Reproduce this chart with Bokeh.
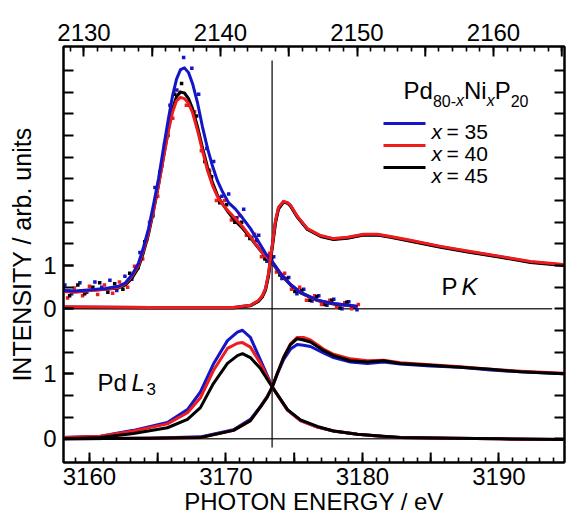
from bokeh.plotting import figure
from bokeh.models import Range1d, LinearAxis, FixedTicker, Label
from bokeh.embed import file_html
from bokeh.resources import INLINE

# ---------------- data ----------------
# Upper panel: P K  (top axis, photon energy in eV)
pk_xes_E = [2128.42, 2129.38, 2130.48, 2131.58, 2132.53, 2133.04, 2133.55, 2133.99, 2134.36, 2134.73,
            2135.09, 2135.46, 2135.82, 2136.19, 2136.48, 2136.78, 2137.07, 2137.36, 2137.66, 2137.95,
            2138.32, 2138.68, 2139.05, 2139.41, 2139.78, 2140.15, 2140.59, 2141.10, 2141.61, 2142.20,
            2142.78, 2143.30, 2143.81, 2144.40, 2145.13, 2145.86, 2147.11, 2148.28, 2150.04]
pk_xes_35 = [0.42, 0.41, 0.44, 0.47, 0.52, 0.60, 0.80, 1.05, 1.42, 1.85, 2.40, 3.00, 3.70, 4.40, 4.90,
             5.30, 5.52, 5.56, 5.45, 5.20, 4.75, 4.20, 3.70, 3.30, 2.95, 2.70, 2.45, 2.30, 2.10, 1.85,
             1.55, 1.28, 1.08, 0.82, 0.56, 0.38, 0.20, 0.12, 0.06]
pk_xes_40 = [0.40, 0.38, 0.42, 0.45, 0.49, 0.58, 0.77, 1.00, 1.35, 1.76, 2.27, 2.85, 3.47, 4.11, 4.53,
             4.80, 4.88, 4.85, 4.74, 4.53, 4.11, 3.65, 3.19, 2.85, 2.59, 2.41, 2.25, 2.08, 1.90, 1.66,
             1.41, 1.21, 1.07, 0.81, 0.56, 0.38, 0.19, 0.12, 0.05]
pk_xes_45 = [0.42, 0.40, 0.43, 0.45, 0.48, 0.55, 0.72, 0.95, 1.30, 1.72, 2.25, 2.85, 3.50, 4.15, 4.60,
             4.90, 5.00, 4.98, 4.85, 4.62, 4.20, 3.72, 3.27, 2.92, 2.62, 2.42, 2.22, 2.02, 1.86, 1.64,
             1.40, 1.20, 1.05, 0.80, 0.55, 0.37, 0.19, 0.11, 0.05]

# raw (noisy) emission points
pk_dots_E_35 = [2128.6, 2129.1, 2129.7, 2130.2, 2130.8, 2131.3, 2131.9, 2132.4, 2133.0, 2133.5,
                2134.1, 2134.6, 2135.2, 2135.7, 2136.3, 2136.8, 2137.3, 2137.9, 2138.4, 2139.0,
                2139.5, 2140.1, 2140.6, 2141.2, 2141.7, 2142.3, 2142.8, 2143.4, 2143.9, 2144.5,
                2145.0, 2145.6, 2146.1, 2146.7, 2147.2, 2147.8, 2148.3, 2148.9, 2149.4, 2150.0]
pk_dots_35 = [0.55, 0.35, 0.60, 0.38, 0.62, 0.50, 0.66, 0.42, 0.75, 0.68, 1.30, 1.60, 2.80, 3.30,
              4.70, 5.05, 5.80, 5.55, 4.95, 3.70, 3.40, 2.60, 2.65, 2.10, 2.30, 1.65, 1.70, 1.10,
              1.20, 0.70, 0.72, 0.35, 0.45, 0.18, 0.30, 0.08, 0.22, 0.00, 0.16, -0.02]
pk_dots_E_40 = [2128.8, 2129.3, 2129.9, 2130.4, 2131.0, 2131.5, 2132.1, 2132.6, 2133.2, 2133.7,
                2134.3, 2134.8, 2135.4, 2135.9, 2136.5, 2137.0, 2137.5, 2138.1, 2138.6, 2139.2,
                2139.7, 2140.3, 2140.8, 2141.4, 2141.9, 2142.5, 2143.0, 2143.6, 2144.1, 2144.7,
                2145.2, 2145.8, 2146.3, 2146.9, 2147.4, 2148.0, 2148.5, 2149.1, 2149.6, 2150.1]
pk_dots_40 = [0.25, 0.48, 0.30, 0.52, 0.33, 0.55, 0.36, 0.62, 0.50, 0.98, 1.15, 2.00, 2.60, 3.80,
              4.40, 5.00, 4.70, 4.55, 3.65, 3.20, 2.50, 2.50, 2.05, 2.15, 1.70, 1.72, 1.20, 1.28,
              0.85, 0.82, 0.45, 0.50, 0.20, 0.30, 0.10, 0.20, 0.05, 0.14, 0.00, 0.10]
pk_dots_E_45 = [2128.45, 2128.95, 2129.55, 2130.05, 2130.65, 2131.15, 2131.75, 2132.25, 2132.85, 2133.35,
                2133.95, 2134.45, 2135.05, 2135.55, 2136.15, 2136.65, 2137.15, 2137.75, 2138.25, 2138.85,
                2139.35, 2139.95, 2140.45, 2141.05, 2141.55, 2142.15, 2142.65, 2143.25, 2143.75, 2144.35,
                2144.85, 2145.45, 2145.95, 2146.55, 2147.05, 2147.65, 2148.15, 2148.75, 2149.25, 2149.85]
pk_dots_45 = [0.50, 0.30, 0.55, 0.35, 0.50, 0.60, 0.38, 0.58, 0.45, 0.82, 0.95, 1.55, 2.15, 3.15,
              4.00, 4.95, 5.20, 4.70, 4.45, 3.40, 3.05, 2.45, 2.40, 2.00, 2.00, 1.62, 1.58, 1.15,
              1.15, 0.78, 0.70, 0.40, 0.42, 0.20, 0.28, 0.10, 0.20, 0.02, 0.15, 0.03]

pk_xas_E = [2128.42, 2134.87, 2140.95, 2142.20, 2142.78, 2143.08, 2143.30, 2143.52, 2143.66, 2143.81,
            2144.03, 2144.25, 2144.62, 2144.91, 2145.13, 2145.64, 2146.37, 2147.33, 2148.28, 2149.30,
            2150.48, 2151.50, 2152.45, 2153.92, 2156.12, 2158.32, 2160.51, 2162.71, 2165.13]
pk_xas_35 = [0.04, 0.03, 0.03, 0.08, 0.18, 0.30, 0.46, 0.80, 1.14, 1.50, 2.02, 2.33, 2.47, 2.44, 2.38,
             2.12, 1.84, 1.68, 1.61, 1.64, 1.71, 1.71, 1.66, 1.57, 1.43, 1.31, 1.20, 1.08, 1.01]
pk_xas_40 = [0.05, 0.03, 0.03, 0.08, 0.19, 0.31, 0.47, 0.82, 1.16, 1.51, 2.04, 2.34, 2.48, 2.45, 2.39,
             2.13, 1.85, 1.69, 1.62, 1.65, 1.72, 1.72, 1.67, 1.58, 1.44, 1.32, 1.21, 1.09, 1.02]
pk_xas_45 = [0.03, 0.02, 0.02, 0.07, 0.17, 0.28, 0.43, 0.76, 1.10, 1.45, 1.98, 2.30, 2.46, 2.44, 2.37,
             2.11, 1.83, 1.67, 1.60, 1.63, 1.70, 1.70, 1.65, 1.56, 1.42, 1.30, 1.19, 1.07, 1.00]

# Lower panel: Pd L3 (bottom axis, photon energy in eV)
pd_xes_E = [3158.02, 3160.81, 3163.22, 3165.71, 3167.18, 3168.13, 3169.08, 3170.11, 3170.84, 3171.21,
            3171.79, 3172.53, 3173.41, 3174.51, 3175.46, 3176.70, 3177.88, 3179.63, 3181.54, 3182.78,
            3186.45, 3190.11, 3194.73]
pd_xes_35 = [0.02, 0.04, 0.13, 0.25, 0.45, 0.72, 1.15, 1.51, 1.64, 1.67, 1.56, 1.21, 0.79, 0.44, 0.28,
             0.18, 0.12, 0.07, 0.035, 0.02, 0.01, 0.00, -0.01]
pd_xes_40 = [0.02, 0.04, 0.12, 0.23, 0.40, 0.63, 1.05, 1.39, 1.47, 1.48, 1.41, 1.16, 0.79, 0.44, 0.28,
             0.18, 0.12, 0.07, 0.035, 0.02, 0.01, 0.00, -0.01]
pd_xes_45 = [0.00, 0.02, 0.08, 0.17, 0.30, 0.48, 0.85, 1.16, 1.28, 1.31, 1.25, 1.08, 0.79, 0.45, 0.29,
             0.19, 0.12, 0.07, 0.04, 0.02, 0.01, 0.00, -0.01]

pd_xas_E = [3158.02, 3164.47, 3168.13, 3170.55, 3171.79, 3172.53, 3173.02, 3173.38, 3173.75, 3174.23,
            3174.73, 3175.22, 3175.68, 3176.19, 3177.14, 3177.88, 3179.12, 3180.37, 3181.54, 3182.78,
            3184.98, 3187.18, 3189.38, 3191.58, 3194.73]
pd_xas_35 = [0.00, 0.01, 0.03, 0.14, 0.30, 0.50, 0.65, 0.79, 0.99, 1.22, 1.38, 1.45, 1.44, 1.42, 1.32,
             1.25, 1.18, 1.16, 1.18, 1.15, 1.12, 1.10, 1.06, 1.03, 1.00]
pd_xas_40 = [0.00, 0.01, 0.02, 0.13, 0.28, 0.49, 0.64, 0.79, 1.00, 1.26, 1.46, 1.56, 1.56, 1.52, 1.38,
             1.30, 1.23, 1.20, 1.21, 1.17, 1.14, 1.11, 1.07, 1.04, 1.01]
pd_xas_45 = [0.00, 0.01, 0.02, 0.13, 0.28, 0.49, 0.64, 0.79, 1.00, 1.25, 1.45, 1.54, 1.52, 1.49, 1.36,
             1.28, 1.20, 1.18, 1.20, 1.16, 1.13, 1.10, 1.07, 1.03, 1.00]

legend_labels = ["35", "40", "45"]
bottom_labeled = [3160, 3170, 3180, 3190]
bottom_mid = [3165, 3175, 3185]
top_labeled = [2130, 2140, 2150, 2160]
top_mid = [2135, 2145, 2155, 2165]
edge_E = 3173.38          # vertical reference line (bottom-axis energy)

# ---------------- styling / geometry ----------------
FONT = "Liberation Sans"
BLUE, RED, BLACK = "#1414c8", "#ee1c1c", "#000000"
COLORS = [BLUE, RED, BLACK]

XB = (3158.10, 3194.80)
SHIFT = 1029.6
XT = (XB[0] - SHIFT, XB[1] - SHIFT)
YT = (-1.094, 18.106)     # tick units
YPD = (-0.3646, 6.035)    # Pd L3 intensity
YPK = (-3.547, 6.053)     # P K intensity

p = figure(width=574, height=521, output_backend="svg", toolbar_location=None,
           x_range=Range1d(*XB), y_range=Range1d(*YT),
           x_axis_type=None, y_axis_type=None,
           min_border_left=63, min_border_right=10, min_border_top=46, min_border_bottom=59)
p.extra_x_ranges = {"top": Range1d(*XT)}
p.extra_y_ranges = {"pd": Range1d(*YPD), "pk": Range1d(*YPK)}
p.outline_line_color = "black"
p.outline_line_width = 2
p.background_fill_color = "white"
p.border_fill_color = "white"


def style_axis(ax, major_in, minor_in):
    ax.axis_line_width = 2
    ax.axis_line_color = "black"
    ax.major_tick_line_width = 2
    ax.minor_tick_line_width = 1.6
    ax.major_tick_in = major_in
    ax.major_tick_out = 0
    ax.minor_tick_in = minor_in
    ax.minor_tick_out = 0
    ax.major_label_text_font = FONT
    ax.major_label_text_font_size = "24px"
    ax.major_label_text_color = "black"
    ax.axis_label_text_color = "black"
    ax.axis_label_text_font = FONT
    ax.axis_label_text_font_style = "normal"


bottom = LinearAxis(ticker=FixedTicker(ticks=bottom_labeled, minor_ticks=list(range(3159, 3195))))
style_axis(bottom, 10, 5)
bottom.major_label_standoff = 5
bottom.axis_label = "PHOTON ENERGY / eV"
bottom.axis_label_text_font_size = "24px"
bottom.axis_label_standoff = 0
p.add_layout(bottom, "below")

top = LinearAxis(x_range_name="top",
                 ticker=FixedTicker(ticks=top_labeled, minor_ticks=list(range(2129, 2166))))
style_axis(top, 10, 5)
top.major_label_standoff = 6
p.add_layout(top, "above")

ytick_all = list(range(0, 18))
left_major = [0, 3, 6, 8]
left = LinearAxis(ticker=FixedTicker(ticks=left_major, minor_ticks=ytick_all))
left.major_label_overrides = {0: "0", 3: "1", 6: "0", 8: "1"}
style_axis(left, 10, 10)
left.minor_tick_line_width = 2
left.major_label_standoff = 7
left.axis_label = "INTENSITY / arb. units"
left.axis_label_text_font_size = "25px"
left.axis_label_standoff = 4
p.add_layout(left, "left")

right = LinearAxis(ticker=FixedTicker(ticks=[], minor_ticks=ytick_all))
style_axis(right, 10, 10)
right.minor_tick_line_width = 2
right.major_label_standoff = 0
p.add_layout(right, "right")

# longer 5-eV tick marks between the labelled ones (bottom and top)
tick_len_pd = 10 / 416 * (YPD[1] - YPD[0])
p.segment(x0=bottom_mid, x1=bottom_mid, y0=[YPD[0]] * 3, y1=[YPD[0] + tick_len_pd] * 3,
          y_range_name="pd", line_color="black", line_width=2)
tick_len_pk = 10 / 416 * (YPK[1] - YPK[0])
p.segment(x0=top_mid, x1=top_mid, y0=[YPK[1]] * 4, y1=[YPK[1] - tick_len_pk] * 4,
          x_range_name="top", y_range_name="pk", line_color="black", line_width=2)

# reference lines
p.line([XT[0], 2164.3], [0, 0], x_range_name="top", y_range_name="pk", line_color="#333333", line_width=1.5)
p.line([XB[0], XB[1]], [0, 0], y_range_name="pd", line_color="#333333", line_width=1.5)
p.line([edge_E, edge_E], [-0.134, 5.82], y_range_name="pd", line_color="black", line_width=1.2)

# upper panel: P K emission dots + lines, absorption
for E, d, c in [(pk_dots_E_35, pk_dots_35, BLUE), (pk_dots_E_40, pk_dots_40, RED), (pk_dots_E_45, pk_dots_45, BLACK)]:
    p.scatter(E, d, marker="square", size=3.5, color=c, line_width=0,
              x_range_name="top", y_range_name="pk")
for ys, c in [(pk_xes_45, BLACK), (pk_xes_40, RED), (pk_xes_35, BLUE)]:
    p.line(pk_xes_E, ys, line_color=c, line_width=3, line_join="round",
           x_range_name="top", y_range_name="pk")
for ys, c in [(pk_xas_35, BLUE), (pk_xas_45, BLACK), (pk_xas_40, RED)]:
    p.line(pk_xas_E, ys, line_color=c, line_width=3, line_join="round",
           x_range_name="top", y_range_name="pk")

# lower panel: Pd L3
for ys, c in [(pd_xes_35, BLUE), (pd_xes_40, RED), (pd_xes_45, BLACK)]:
    p.line(pd_xes_E, ys, line_color=c, line_width=3, line_join="round", y_range_name="pd")
for ys, c in [(pd_xas_35, BLUE), (pd_xas_40, RED), (pd_xas_45, BLACK)]:
    p.line(pd_xas_E, ys, line_color=c, line_width=3, line_join="round", y_range_name="pd")

# ---------------- annotations (positions in page pixels) ----------------
FL, FT, FW, FH = 63.0, 46.0, 501.0, 416.0


def bx(px):
    return XB[0] + (px - FL) / FW * (XB[1] - XB[0])


def by(py):
    return YT[0] + (FT + FH - py) / FH * (YT[1] - YT[0])


def txt(px, py, s, size, style="normal", align="left", baseline="alphabetic", color="black"):
    p.add_layout(Label(x=bx(px), y=by(py), text=s, text_font=FONT, text_font_size=f"{size}px",
                       text_font_style=style, text_align=align, text_baseline=baseline,
                       text_color=color))


# legend title  Pd80-xNixP20
txt(403, 90, "Pd", 24)
txt(432.4, 100, "80-", 16)
txt(455.5, 100, "x", 16, style="italic")
txt(463.5, 90, "Ni", 24)
txt(486.2, 100, "x", 16, style="italic")
txt(494.2, 90, "P", 24)
txt(510.2, 100, "20", 16)

# legend entries
for i, (lab, c) in enumerate(zip(legend_labels, COLORS)):
    yy = 123 + 22 * i
    p.line([bx(383), bx(425)], [by(yy), by(yy)], line_color=c, line_width=3)
    txt(431, yy + 7.5, "x", 21, style="italic")
    txt(446, yy + 7.5, "= " + lab, 21)

# panel labels
txt(441, 286, "P", 24)
txt(461, 286, "K", 24, style="italic")
txt(97, 382, "Pd", 24)
txt(131, 382, "L", 24, style="italic")
txt(146, 388, "3", 17)

open("out.html", "w").write(file_html(p, INLINE))
